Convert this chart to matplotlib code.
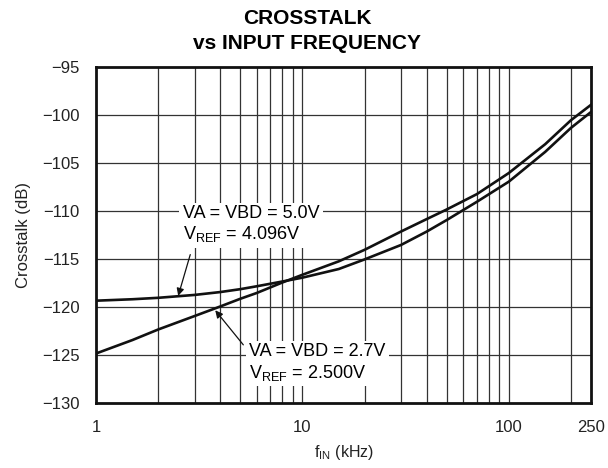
import matplotlib
matplotlib.use("Agg")
import matplotlib.pyplot as plt
from matplotlib.ticker import FixedLocator, NullLocator

plt.rcParams['font.family'] = ['Liberation Sans', 'DejaVu Sans']
plt.rcParams['mathtext.fontset'] = 'custom'
plt.rcParams['mathtext.rm'] = 'Liberation Sans'

# input frequency (kHz)
freq = [1, 1.5, 2, 3, 4, 5, 6, 8, 10, 15, 20, 30, 40, 50, 70, 100, 150, 200, 250]
# crosstalk (dB), VA = VBD = 5.0V, VREF = 4.096V
xt_5v0 = [-119.3, -119.15, -119.0, -118.7, -118.4, -118.1, -117.8, -117.3, -116.9,
          -116.0, -115.0, -113.5, -112.1, -110.9, -109.0, -106.9, -103.8, -101.3, -99.65]
# crosstalk (dB), VA = VBD = 2.7V, VREF = 2.500V
xt_2v7 = [-124.8, -123.4, -122.3, -120.9, -119.9, -119.1, -118.5, -117.4, -116.6,
          -115.2, -114.0, -112.1, -110.8, -109.8, -108.2, -106.0, -103.0, -100.5, -98.9]

xticks = [1, 10, 100, 250]
yticks = [-95, -100, -105, -110, -115, -120, -125, -130]
xgrid = [2, 3, 4, 5, 6, 7, 8, 9, 10, 20, 30, 40, 50, 60, 70, 80, 90, 100, 200]

fig = plt.figure(figsize=(6.08, 4.68), dpi=100)
ax = fig.add_axes([0.158, 0.138, 0.814, 0.718])

ax.plot(freq, xt_5v0, color='#111111', lw=1.9, zorder=3)
ax.plot(freq, xt_2v7, color='#111111', lw=1.9, zorder=3)

ax.set_xscale('log')
ax.set_xlim(1, 250)
ax.set_ylim(-130, -95)

ax.xaxis.set_major_locator(FixedLocator(xticks))
ax.xaxis.set_minor_locator(NullLocator())
ax.set_xticklabels([str(t) for t in xticks])
ax.set_yticks(yticks)
ax.set_yticklabels(['\u2212%d' % abs(t) for t in yticks])
ax.tick_params(length=0, labelsize=12, colors='#222222', pad=12)

for g in xgrid:
    ax.axvline(g, color='#333333', lw=0.9, zorder=1)
for g in yticks[1:-1]:
    ax.axhline(g, color='#333333', lw=0.9, zorder=1)

for s in ax.spines.values():
    s.set_linewidth(2.0)
    s.set_color('#111111')

# title is centred on the whole figure, not on the axes
fig.text(0.505, 0.934, 'CROSSTALK\nvs INPUT FREQUENCY', fontsize=15, fontweight='bold',
         linespacing=1.35, ha='center', va='center')
ax.set_ylabel('Crosstalk (dB)', fontsize=12, color='#222222', labelpad=8)
ax.set_xlabel(r'f$_{\mathregular{IN}}$ (kHz)', fontsize=11.5, color='#222222', labelpad=6)

box = dict(boxstyle='square,pad=0.2', fc='white', ec='none')
ax.text(2.64, -111.4, 'VA = VBD = 5.0V\nV$_{\\mathregular{REF}}$ = 4.096V',
        fontsize=13, ha='left', va='center', linespacing=1.15, bbox=box, zorder=4)
ax.text(5.53, -125.8, 'VA = VBD = 2.7V\nV$_{\\mathregular{REF}}$ = 2.500V',
        fontsize=13, ha='left', va='center', linespacing=1.15, bbox=box, zorder=4)

arrow = dict(arrowstyle='-|>', color='#111111', lw=0.9, mutation_scale=11,
             shrinkA=0, shrinkB=0)
ax.annotate('', xy=(2.5, -118.8), xytext=(2.86, -114.5), arrowprops=arrow, zorder=5)
ax.annotate('', xy=(3.78, -120.3), xytext=(5.17, -123.9), arrowprops=arrow, zorder=5)

fig.savefig('out.png', dpi=100)
